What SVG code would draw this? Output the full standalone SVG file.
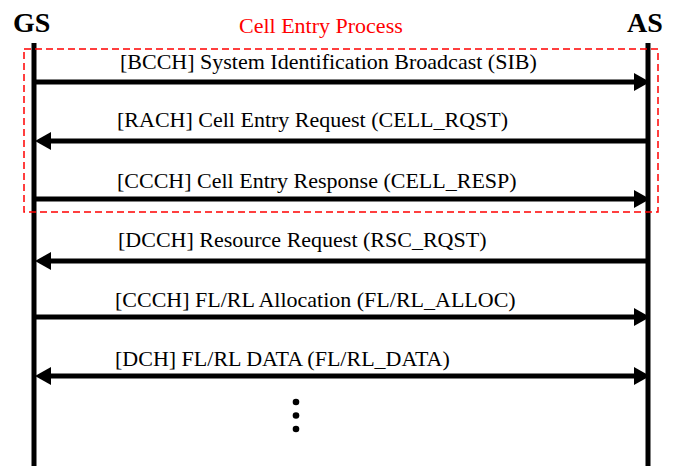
<svg xmlns="http://www.w3.org/2000/svg" width="678" height="466" viewBox="0 0 678 466">
<style>
.lbl{font-family:"Liberation Serif","Times New Roman",serif;font-size:22px;fill:#000}
.ent{font-family:"Liberation Serif","Times New Roman",serif;font-size:28px;font-weight:bold;fill:#000}
.title{font-family:"Liberation Serif","Times New Roman",serif;font-size:22px;fill:#ff0000}
.life{stroke:#000;stroke-width:5}
.msg{stroke:#000;stroke-width:5;fill:none;marker-end:url(#ah)}
</style>
<defs>
<marker id="ah" markerUnits="userSpaceOnUse" markerWidth="16" markerHeight="18" refX="2" refY="9" orient="auto-start-reverse">
<path d="M0,0 L16,9 L0,18 z" fill="#000"/>
</marker>
</defs>
<rect width="678" height="466" fill="#fff"/>
<g id="GS">
<text class="ent" x="13" y="32">GS</text>
<line class="life" x1="34" y1="43" x2="34" y2="466"/>
</g>
<g id="AS">
<text class="ent" x="627" y="32">AS</text>
<line class="life" x1="648" y1="43" x2="648" y2="466"/>
</g>
<g id="cell-entry-process">
<rect x="24" y="49" width="634" height="163" fill="none" stroke="#ff0000" stroke-width="1.5" stroke-dasharray="7,4"/>
<text class="title" x="239" y="33">Cell Entry Process</text>
</g>
<g id="connectors">
<line class="msg" x1="36" y1="82" x2="636" y2="82"/>
<line class="msg" x1="646" y1="141" x2="49" y2="141"/>
<line class="msg" x1="36" y1="199" x2="636" y2="199"/>
<line class="msg" x1="646" y1="261" x2="49" y2="261"/>
<line class="msg" x1="36" y1="317" x2="636" y2="317"/>
<line class="msg" x1="49" y1="376" x2="636" y2="376" marker-start="url(#ah)"/>
</g>
<g id="labels">
<text class="lbl" x="120" y="69">[BCCH] System Identification Broadcast (SIB)</text>
<text class="lbl" x="117" y="127">[RACH] Cell Entry Request (CELL_RQST)</text>
<text class="lbl" x="117" y="188">[CCCH] Cell Entry Response (CELL_RESP)</text>
<text class="lbl" x="118" y="247">[DCCH] Resource Request (RSC_RQST)</text>
<text class="lbl" x="115" y="307">[CCCH] FL/RL Allocation (FL/RL_ALLOC)</text>
<text class="lbl" x="115" y="366">[DCH] FL/RL DATA (FL/RL_DATA)</text>
</g>
<g id="ellipsis" fill="#000">
<circle cx="296" cy="402" r="3.3"/>
<circle cx="296" cy="415.5" r="3.3"/>
<circle cx="296" cy="429" r="3.3"/>
</g>
</svg>
